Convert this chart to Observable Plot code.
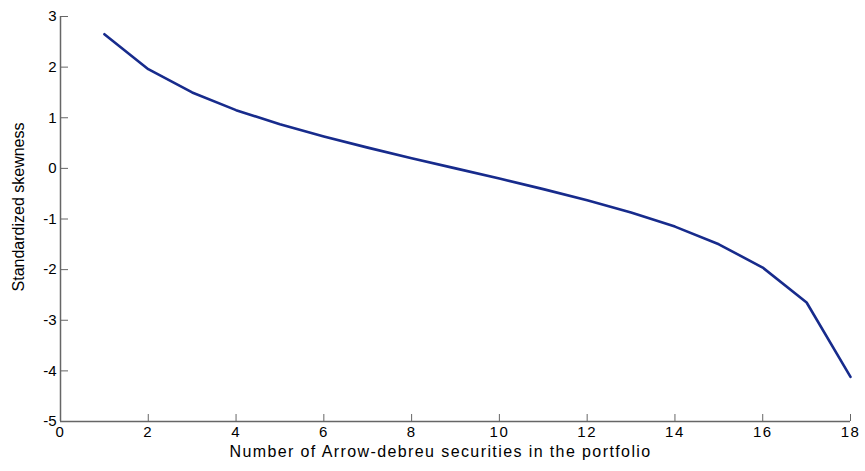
<!DOCTYPE html>
<html>
<head>
<meta charset="utf-8">
<script src="https://cdn.jsdelivr.net/npm/d3@7"></script>
<script src="https://cdn.jsdelivr.net/npm/@observablehq/plot@0.6"></script>
<style>
  html, body { margin: 0; padding: 0; background: #fff; }
  #chart { width: 865px; height: 471px; }
</style>
</head>
<body>
<div id="chart"></div>
<script>
const securities = [1, 2, 3, 4, 5, 6, 7, 8, 9, 10, 11, 12, 13, 14, 15, 16, 17, 18];
const skewness = [2.65, 1.96, 1.50, 1.15, 0.87, 0.63, 0.41, 0.20, 0.0, -0.20, -0.41, -0.63, -0.87, -1.15, -1.50, -1.96, -2.65, -4.12];
const xTicks = [0, 2, 4, 6, 8, 10, 12, 14, 16, 18];
const yTicks = [-5, -4, -3, -2, -1, 0, 1, 2, 3];
const xLabel = "Number of Arrow-debreu securities in the portfolio";
const yLabel = "Standardized skewness";

const data = securities.map((x, i) => ({x, y: skewness[i]}));
const axisColor = "#666";
const fmt = d => String(d);

const chart = Plot.plot({
  width: 865,
  height: 471,
  marginLeft: 60,
  marginRight: 15,
  marginTop: 16,
  marginBottom: 50,
  style: {fontFamily: "'Liberation Sans', Arial, sans-serif", fontSize: "15px", color: "black", background: "white"},
  x: {domain: [0, 18], label: null},
  y: {domain: [-5, 3], label: null},
  marks: [
    Plot.ruleX([0], {stroke: axisColor, strokeWidth: 1.5}),
    Plot.ruleY([-5], {stroke: axisColor, strokeWidth: 1.5}),
    Plot.axisX({ticks: xTicks, tickFormat: fmt, tickSize: -7, tickPadding: 12, stroke: axisColor, fill: "black", fontSize: 15, label: null}),
    Plot.axisY({ticks: yTicks, tickFormat: fmt, tickSize: -8, tickPadding: 12, stroke: axisColor, fill: "black", fontSize: 15, label: null}),
    Plot.text([xLabel], {frameAnchor: "bottom", dy: 35, dx: -15, fontSize: 16, fill: "black"}),
    Plot.text([yLabel], {frameAnchor: "left", textAnchor: "middle", dx: -42, dy: -12, rotate: -90, fontSize: 16, fill: "black"}),
    Plot.line(data, {x: "x", y: "y", stroke: "#172b8c", strokeWidth: 2.6})
  ]
});
document.getElementById("chart").append(chart);
// widen horizontal texts a little to match the reference's wider glyph spacing
d3.select(chart).selectAll("g[aria-label='x-axis tick label'] text").style("letter-spacing", "1.5px");
d3.select(chart).selectAll("g[aria-label='text'] text").filter(function() { return this.textContent === xLabel; }).style("letter-spacing", "1.4px");
</script>
</body>
</html>
